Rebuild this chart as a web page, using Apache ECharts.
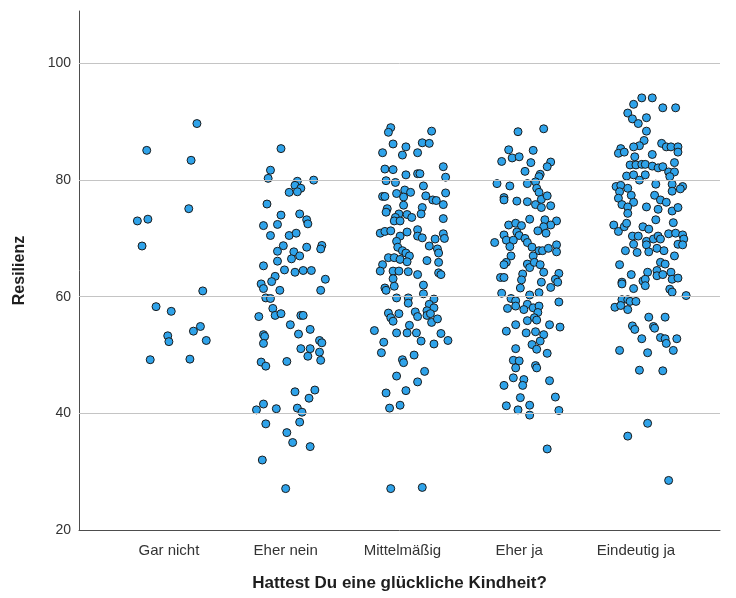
<!DOCTYPE html>
<html>
<head>
<meta charset="utf-8">
<script src="https://cdn.jsdelivr.net/npm/echarts@6/dist/echarts.min.js"></script>
<style>
  html, body { margin: 0; padding: 0; background: #ffffff; }
  #chart { width: 736px; height: 598px; }
</style>
</head>
<body>
<div id="chart"></div>
<script>
// Categories of the answer to "Hattest Du eine glückliche Kindheit?"
const categories = ['Gar nicht', 'Eher nein', 'Mittelmäßig', 'Eher ja', 'Eindeutig ja'];
const yTicks = [20, 40, 60, 80, 100];
const gridValues = [40, 60, 80, 100];

// Resilienz scores per group, with the horizontal jitter (in category units)
const garNichtValues = [89.7, 85.1, 83.4, 75.1, 73.0, 73.3, 68.7, 61.0, 58.3, 57.5, 54.9, 54.1, 53.3, 52.3, 52.5, 49.2, 49.3];
const garNichtJitter = [0.24, -0.19, 0.19, 0.17, -0.27, -0.18, -0.23, 0.29, -0.11, 0.02, 0.27, 0.21, -0.01, 0.00, 0.32, -0.16, 0.18];

const eherNeinValues = [85.4, 81.7, 80.3, 79.8, 79.1, 80.0, 78.6, 77.9, 78.0, 75.9, 74.0, 74.2, 73.2, 72.5, 72.2, 72.4, 70.5, 70.5, 70.9, 68.75,
  68.8, 68.2, 68.5, 67.8, 67.7, 67.0, 66.5, 66.1, 65.3, 64.6, 64.2, 64.5, 64.5, 63.5, 62.6, 62.2, 61.4, 63.0, 61.1, 61.1,
  59.8, 59.7, 58.0, 56.6, 56.8, 57.1, 56.8, 56.8, 55.2, 53.5, 53.2, 53.6, 54.4, 52.0, 52.5, 52.1, 51.1, 51.1, 49.8, 50.5,
  49.1, 48.8, 48.1, 48.9, 43.7, 44.0, 42.6, 41.6, 40.6, 40.8, 40.9, 40.2, 38.2, 38.5, 36.7, 35.0, 34.3, 32.0, 27.1];
const eherNeinJitter = [-0.04, -0.13, -0.15, 0.10, 0.08, 0.24, 0.13, 0.03, 0.10, -0.16, -0.04, 0.12, 0.18, 0.19, -0.19, -0.07, -0.13, 0.03, 0.09, -0.02,
  0.31, 0.30, 0.18, -0.07, 0.07, 0.12, 0.05, -0.07, -0.19, -0.01, 0.08, 0.15, 0.22, -0.09, -0.12, -0.21, -0.19, 0.34, -0.05, 0.30,
  -0.17, -0.13, -0.11, -0.23, -0.09, -0.04, 0.13, 0.15, 0.04, -0.19, -0.18, 0.11, 0.21, -0.19, 0.29, 0.31, 0.13, 0.21, 0.19, 0.29,
  0.30, -0.21, -0.17, 0.01, 0.08, 0.25, 0.20, -0.19, -0.25, -0.08, 0.10, 0.14, -0.17, 0.12, 0.01, 0.06, 0.21, -0.20, 0.00];

const mittelValues = [89.0, 88.2, 88.4, 86.2, 85.7, 86.4, 86.3, 84.7, 84.3, 84.7, 81.9, 81.8, 80.9, 81.1, 81.1, 82.3, 80.5, 79.9, 79.6, 79.0,
  77.2, 77.2, 77.7, 78.3, 77.1, 77.9, 77.3, 76.6, 76.5, 75.8, 77.8, 75.7, 75.3, 75.1, 74.5, 74.2, 74.1, 73.6, 74.2, 73.6,
  73.0, 73.0, 73.4, 70.9, 71.2, 71.3, 71.1, 71.5, 70.4, 70.4, 70.1, 70.8, 70.0, 69.9, 69.5, 68.7, 68.2, 68.5, 67.9, 67.5,
  67.5, 66.7, 66.7, 67.0, 66.4, 66.0, 66.2, 65.9, 65.5, 64.4, 64.4, 64.4, 64.3, 64.1, 63.8, 63.1, 63.8, 62.0, 61.5, 61.1,
  61.8, 60.5, 59.8, 59.8, 59.6, 58.9, 58.7, 58.1, 57.6, 57.2, 57.1, 56.4, 55.8, 57.4, 56.6, 56.8, 57.1, 55.6, 56.2, 55.1,
  54.2, 53.8, 53.8, 53.8, 53.7, 52.4, 51.9, 52.5, 52.2, 50.4, 50.0, 49.2, 48.7, 46.4, 47.2, 45.4, 43.9, 43.5, 41.4, 40.9,
  27.1, 27.3];
const mittelJitter = [-0.10, -0.12, 0.25, -0.08, 0.03, 0.17, 0.23, -0.17, 0.00, 0.13, -0.15, -0.08, 0.03, 0.13, 0.15, 0.35, 0.37, -0.14, -0.06, 0.18,
  -0.17, -0.15, -0.05, 0.02, 0.01, 0.07, 0.20, 0.26, 0.29, 0.35, 0.37, 0.01, 0.17, -0.13, -0.14, -0.03, 0.04, 0.08, 0.16, -0.06,
  -0.07, -0.02, 0.35, -0.19, -0.15, -0.10, 0.04, 0.13, -0.02, 0.13, 0.17, 0.35, 0.36, 0.28, -0.05, 0.23, 0.30, -0.04, 0.00, 0.03,
  0.31, -0.12, -0.07, 0.06, -0.02, 0.04, 0.21, 0.31, -0.17, -0.19, -0.08, -0.03, 0.05, 0.31, 0.33, -0.08, 0.13, 0.18, -0.15, -0.14,
  -0.07, 0.18, -0.05, 0.05, 0.27, 0.05, 0.23, 0.27, 0.21, -0.12, -0.03, -0.10, -0.08, 0.11, 0.13, 0.21, 0.24, 0.25, 0.30, 0.06,
  -0.24, -0.05, 0.04, 0.12, 0.33, 0.16, 0.27, 0.39, -0.16, -0.18, 0.10, 0.00, 0.01, -0.05, 0.19, 0.13, 0.03, -0.14, -0.02, -0.11,
  -0.10, 0.17];

const eherJaValues = [88.3, 88.8, 85.2, 85.1, 83.8, 84.0, 83.2, 83.0, 83.1, 82.3, 81.5, 81.0, 80.6, 79.4, 79.0, 79.4, 79.7, 78.6, 77.9, 77.0,
  76.6, 76.4, 76.3, 75.8, 76.7, 77.3, 75.6, 75.3, 73.3, 73.2, 73.0, 72.3, 72.6, 72.2, 72.3, 72.0, 71.3, 70.9, 71.1, 70.6,
  70.5, 69.3, 69.7, 69.7, 70.0, 69.3, 68.6, 68.5, 68.9, 67.7, 67.9, 67.9, 68.3, 67.0, 67.0, 65.9, 65.5, 65.6, 65.0, 65.9,
  65.5, 63.9, 64.2, 64.0, 63.3, 63.3, 62.9, 62.5, 63.0, 62.5, 61.6, 61.5, 60.6, 60.3, 60.7, 59.7, 59.3, 58.4, 58.0, 58.7,
  58.1, 58.4, 57.8, 57.3, 59.1, 55.9, 56.4, 56.0, 55.2, 55.2, 54.8, 54.1, 53.8, 54.0, 53.5, 52.4, 51.8, 51.0, 51.1, 50.3,
  49.1, 49.0, 47.8, 48.2, 47.8, 46.1, 45.8, 44.8, 45.6, 44.8, 42.7, 42.8, 41.3, 40.6, 41.4, 39.7, 40.5, 33.9];
const eherJaJitter = [-0.01, 0.21, -0.09, 0.12, -0.06, 0.00, -0.15, 0.10, 0.27, 0.24, 0.05, 0.18, 0.17, -0.19, -0.08, 0.07, 0.14, 0.15, 0.17, -0.13,
  -0.13, -0.02, 0.07, 0.14, 0.19, 0.24, 0.27, 0.19, 0.09, 0.22, 0.32, -0.09, -0.03, 0.02, 0.27, 0.21, 0.16, 0.23, -0.02, -0.13,
  0.00, -0.21, -0.11, -0.05, 0.05, 0.07, -0.08, 0.11, 0.32, 0.32, 0.17, 0.20, 0.25, -0.07, 0.12, -0.11, -0.13, 0.07, 0.09, 0.13,
  0.18, 0.03, 0.21, 0.34, -0.16, -0.13, 0.02, 0.19, 0.31, 0.33, 0.27, 0.01, -0.15, 0.09, 0.17, -0.07, -0.03, -0.03, -0.10, 0.07,
  0.12, 0.17, 0.04, 0.16, 0.34, 0.07, 0.13, 0.15, -0.03, 0.26, 0.35, -0.11, 0.06, 0.14, 0.21, 0.18, 0.11, 0.15, -0.03, 0.24,
  -0.05, 0.00, -0.03, 0.14, 0.15, -0.05, 0.04, 0.03, 0.26, -0.13, 0.01, 0.31, -0.11, -0.01, 0.09, 0.09, 0.34, 0.24];

const eindeutigValues = [94.1, 94.1, 93.0, 92.4, 92.4, 91.5, 90.5, 90.7, 89.7, 88.4, 86.8, 85.9, 85.7, 85.4, 84.6, 84.8, 86.3, 85.7, 85.7, 85.7,
  84.8, 84.4, 84.0, 83.0, 82.6, 82.6, 82.7, 82.7, 82.4, 82.1, 82.3, 81.4, 81.4, 80.7, 80.9, 80.9, 80.0, 80.6, 79.3, 79.3,
  78.9, 79.1, 78.6, 78.9, 78.5, 78.1, 78.0, 77.4, 76.9, 77.4, 76.6, 76.2, 76.2, 75.8, 75.4, 75.4, 74.7, 75.3, 75.0, 74.3,
  73.2, 72.3, 71.2, 72.0, 72.6, 72.0, 72.7, 71.6, 70.4, 70.4, 69.5, 68.9, 69.9, 70.4, 69.9, 70.8, 70.9, 70.6, 69.9, 69.0,
  68.9, 69.0, 68.3, 67.9, 67.6, 67.7, 67.9, 67.0, 65.5, 65.9, 65.6, 64.5, 63.8, 64.2, 63.6, 63.8, 64.2, 63.0, 63.2, 62.7,
  63.0, 62.5, 62.2, 61.9, 61.4, 61.3, 60.8, 60.2, 59.5, 59.5, 59.2, 59.2, 58.2, 58.5, 57.8, 56.5, 56.5, 55.0, 54.4, 54.9,
  54.6, 52.8, 53.0, 52.8, 52.0, 52.8, 50.8, 50.4, 50.8, 47.4, 47.3, 38.3, 36.1, 28.5];
const eindeutigJitter = [0.05, 0.14, -0.02, 0.23, 0.34, -0.07, -0.03, 0.09, 0.02, 0.09, 0.07, 0.03, -0.02, -0.13, -0.15, -0.10, 0.22, 0.26, 0.30, 0.36,
  0.36, 0.14, -0.01, 0.33, -0.05, 0.00, 0.05, 0.08, 0.14, 0.19, 0.23, 0.28, 0.33, -0.08, -0.02, 0.08, 0.03, 0.29, 0.31, 0.17,
  -0.17, -0.13, -0.07, 0.40, 0.38, 0.31, -0.14, -0.04, -0.15, 0.16, 0.21, 0.26, -0.02, -0.12, -0.07, 0.09, 0.31, 0.36, 0.19, -0.07,
  0.17, -0.19, -0.15, -0.10, -0.08, 0.06, 0.32, 0.11, -0.03, 0.02, 0.09, 0.09, 0.15, 0.19, 0.21, 0.28, 0.34, 0.40, 0.41, 0.36,
  0.40, -0.02, 0.18, -0.09, 0.01, 0.11, 0.24, 0.33, -0.14, 0.21, 0.25, 0.18, -0.04, 0.10, 0.18, 0.23, 0.30, 0.31, 0.36, 0.06,
  0.08, -0.12, -0.12, 0.08, -0.02, 0.29, 0.31, 0.43, -0.12, -0.07, -0.05, 0.00, -0.18, -0.13, -0.07, 0.11, 0.25, -0.03, -0.01, 0.15,
  0.16, 0.05, 0.21, 0.25, 0.26, 0.35, -0.14, 0.10, 0.32, 0.03, 0.23, 0.10, -0.07, 0.28];

const groups = [
  [garNichtValues, garNichtJitter],
  [eherNeinValues, eherNeinJitter],
  [mittelValues, mittelJitter],
  [eherJaValues, eherJaJitter],
  [eindeutigValues, eindeutigJitter]
];

const points = [];
groups.forEach(([values, jitter], idx) => {
  values.forEach((v, k) => points.push([idx + jitter[k], v]));
});

const font = '"Liberation Sans", Arial, sans-serif';
const chart = echarts.init(document.getElementById('chart'), null, { renderer: 'canvas' });

chart.setOption({
  animation: false,
  backgroundColor: '#ffffff',
  grid: { left: 79, right: 16, top: 11, bottom: 68, outerBoundsMode: 'none', containLabel: false },
  xAxis: {
    type: 'value',
    min: -0.77,
    max: 4.72,
    name: 'Hattest Du eine glückliche Kindheit?',
    nameLocation: 'middle',
    nameGap: 45,
    nameTextStyle: { fontFamily: font, fontWeight: 'bold', fontSize: 17, color: '#1e1e1e' },
    axisLine: { show: true, onZero: false, lineStyle: { color: '#4d4d4d', width: 1 } },
    axisTick: { show: false },
    splitLine: { show: false },
    axisLabel: {
      customValues: [0, 1, 2, 3, 4],
      formatter: v => categories[Math.round(v)],
      margin: 13,
      fontFamily: font,
      fontSize: 15,
      color: '#333333'
    }
  },
  yAxis: {
    type: 'value',
    min: 20,
    max: 109,
    name: 'Resilienz',
    nameLocation: 'middle',
    nameRotate: 90,
    nameGap: 51,
    nameTextStyle: { fontFamily: font, fontWeight: 'bold', fontSize: 16, color: '#1e1e1e' },
    axisLine: { show: true, onZero: false, lineStyle: { color: '#4d4d4d', width: 1 } },
    axisTick: { show: false },
    splitLine: { show: false },
    axisLabel: {
      customValues: yTicks,
      margin: 8,
      fontFamily: font,
      fontSize: 14,
      color: '#333333'
    }
  },
  series: [
    {
      type: 'scatter',
      data: [],
      z: 1,
      silent: true,
      markLine: {
        silent: true,
        symbol: 'none',
        label: { show: false },
        lineStyle: { color: '#c4c4c4', width: 1, type: 'solid' },
        data: gridValues.map(v => ({ yAxis: v }))
      }
    },
    {
      type: 'scatter',
      z: 3,
      data: points,
      symbol: 'circle',
      symbolSize: 8,
      itemStyle: { color: '#2fa3ea', borderColor: '#1b1b1b', borderWidth: 1, opacity: 1 },
      emphasis: { disabled: true }
    }
  ]
});
</script>
</body>
</html>
